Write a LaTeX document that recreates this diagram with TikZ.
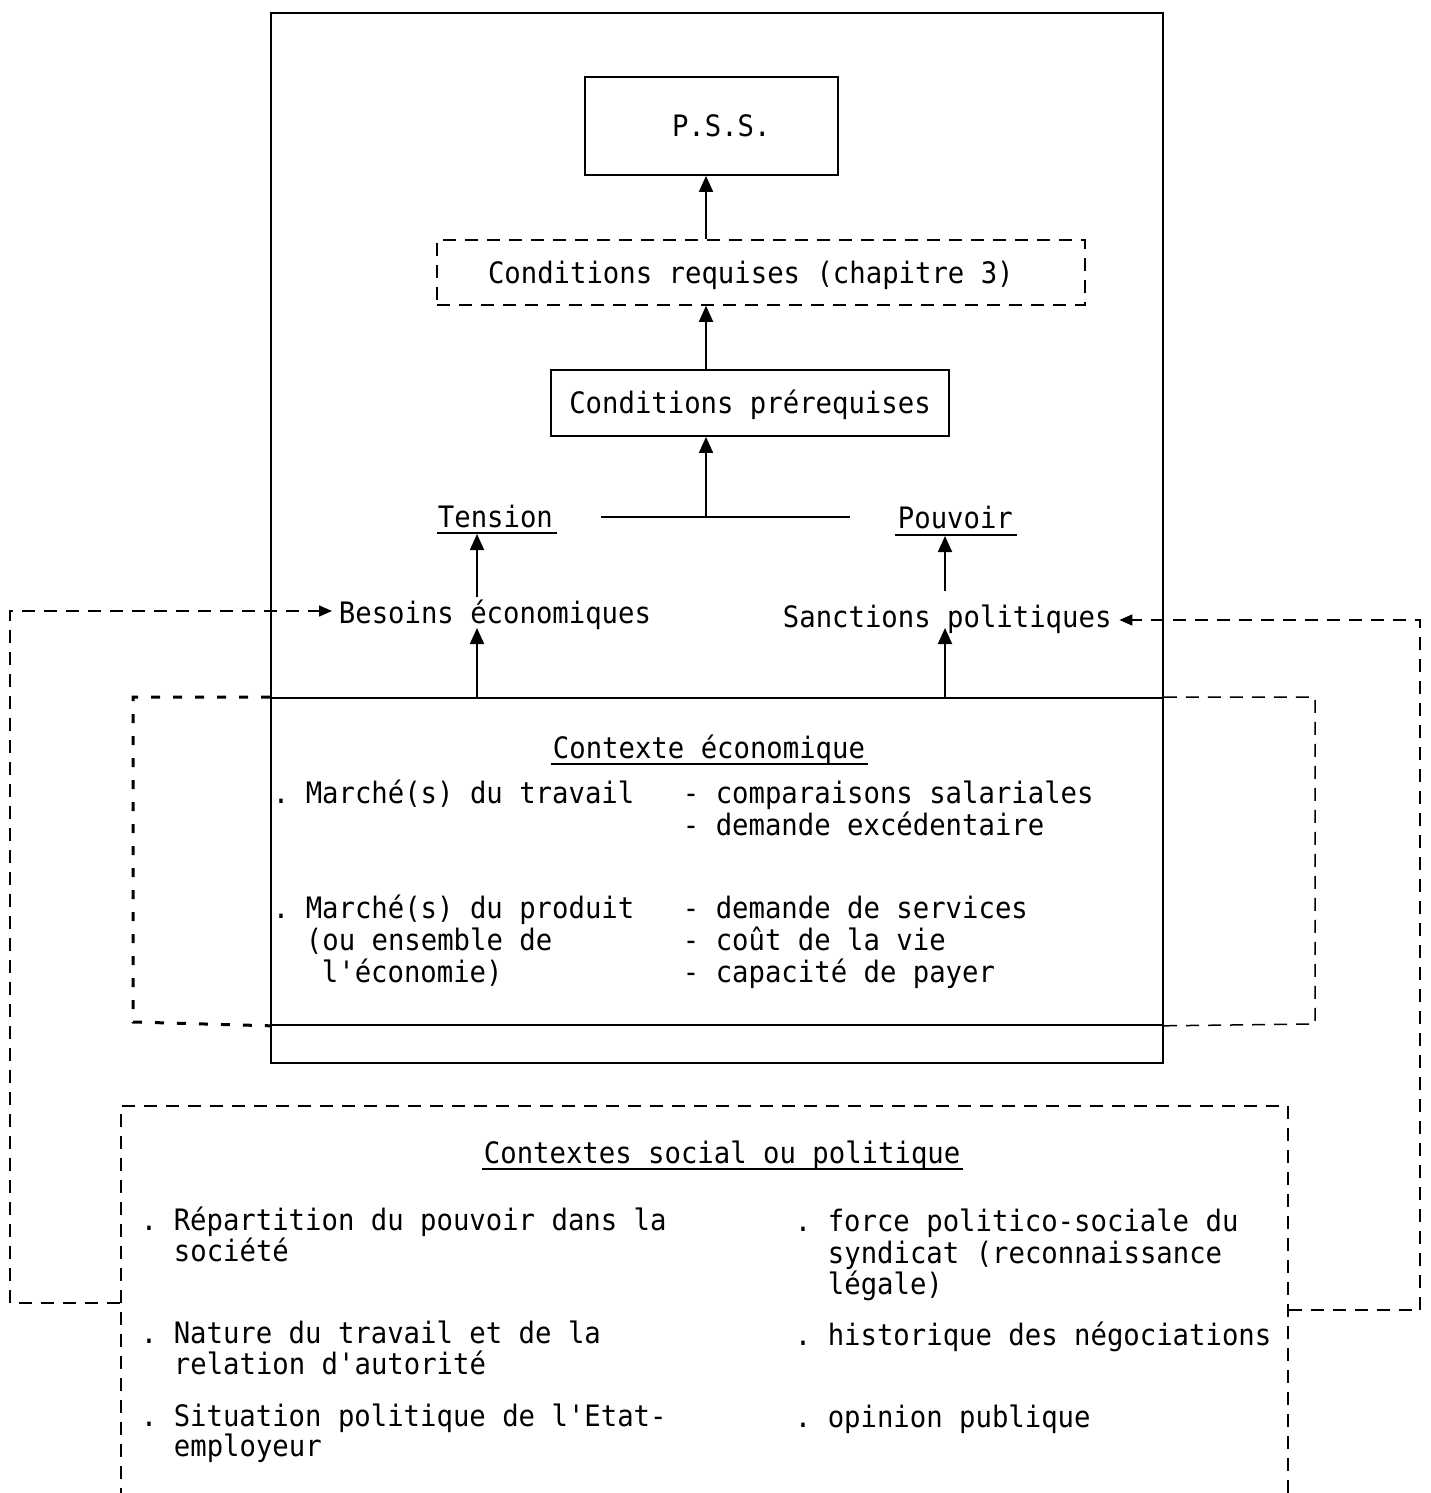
\documentclass[tikz,border=0pt]{standalone}
\usepackage{fontspec}
\newfontfamily\tw[FakeStretch=0.925]{DejaVu Sans Mono}
\usetikzlibrary{arrows.meta}

\begin{document}
\frenchspacing
\begin{tikzpicture}[x=1pt,y=-1pt,
  line width=1.8pt,
  tfont/.style={font=\tw\fontsize{29.5}{31.5}\selectfont\frenchspacing},
  txt/.style={tfont, inner sep=0pt, anchor=base west},
  frame/.style={draw, anchor=north west, inner sep=0pt},
  boxed/.style={draw, tfont, inner sep=0pt, text height=21pt, text depth=0pt},
  arr/.style={-{Triangle[length=16pt,width=14pt]}},
  dline/.style={line width=1.5pt, dash pattern=on 13pt off 9pt},
  ecodash/.style={line width=3pt, dash pattern=on 9pt off 13pt},
  darr/.style={dline, -{Triangle[length=13pt,width=11pt]}},
  uline/.style={line width=1.8pt}
]
\useasboundingbox (0,0) rectangle (1431,1493);
\fill[white] (0,0) rectangle (1431,1493);

% ---- outer frame and economic context frame
\node[frame, minimum width=892pt, minimum height=1050pt] (outer) at (270,12) {};
\node[frame, minimum width=892pt, minimum height=327pt] (eco) at (270,697) {};

% ---- social / political context (open at the bottom)
\node[frame, dline, minimum width=1167pt, minimum height=430pt] (soc) at (120,1105) {};

% ---- upper chain
\node[boxed, inner xsep=87pt, minimum height=98pt] (pss) at (711.5,126) {\makebox[79pt][l]{P.S.S.}};
\node[boxed, dline, inner xsep=51pt, minimum height=65pt] (req) at (761,272.5) {\makebox[546pt][l]{Conditions requises (chapitre 3)}};
\node[boxed, minimum width=398pt, minimum height=66pt] (prereq) at (750,403) {Conditions prérequises};

\node[txt] (tension) at (437,527) {Tension};
\node[txt] (pouvoir) at (897,528) {Pouvoir};
\draw[uline] ([shift={(0,6)}]tension.base west) -- ([shift={(3,6)}]tension.base east);
\draw[uline] ([shift={(-2,7)}]pouvoir.base west) -- ([shift={(3,7)}]pouvoir.base east);

\node[txt] (besoins) at (338,623) {Besoins économiques};
\node[txt] (sanctions) at (782,627) {Sanctions politiques};

% ---- vertical axes of the arrows
\coordinate (jx) at (706,0);
\coordinate (ax) at (477,0);
\coordinate (bx) at (945,0);
\coordinate (jl) at (601,517);
\coordinate (jr) at (850,517);

\draw (jl) -- (jr);
\draw[arr] (jx |- jl) -- (prereq.south -| jx);
\draw[arr] (prereq.north -| jx) -- (req.south -| jx);
\draw[arr] (req.north -| jx) -- (pss.south -| jx);

\draw[arr] (ax |- 0,597) -- (ax |- 0,534);
\draw[arr] (bx |- 0,591) -- (bx |- 0,536);
\draw[arr] (eco.north -| ax) -- (ax |- 0,628);
\draw[arr] (eco.north -| bx) -- (bx |- 0,628);

% ---- economic context contents
\node[txt] (ecotitle) at (552,758) {Contexte économique};
\draw[uline] ([shift={(-1,6)}]ecotitle.base west) -- ([shift={(2,6)}]ecotitle.base east);
\node[txt] (m1) at (272,803) {. Marché(s) du travail};
\node[txt] (m1a) at (682,803) {- comparaisons salariales};
\node[txt] (m1b) at (682,835) {- demande excédentaire};
\node[txt] (m2) at (272,918) {. Marché(s) du produit};
\node[txt] (m2l2) at (305,950) {(ou ensemble de};
\node[txt] (m2l3) at (321,982) {l'économie)};
\node[txt] (m2a) at (682,918) {- demande de services};
\node[txt] (m2b) at (682,950) {- coût de la vie};
\node[txt] (m2c) at (682,982) {- capacité de payer};

% ---- dashed extensions of the economic frame
\draw[ecodash] (eco.north west) -- (133,697) -- (133,1022) -- (eco.south west);
\draw[dline] (eco.north east) -- (1315,697) -- (1315,1024) -- (eco.south east);

% ---- social / political contents
\node[txt] (soctitle) at (483,1163) {Contextes social ou politique};
\draw[uline] ([shift={(-1,6)}]soctitle.base west) -- ([shift={(2,6)}]soctitle.base east);
\node[txt] (s1) at (140,1230) {. Répartition du pouvoir dans la};
\node[txt] (s1b) at (173,1261) {société};
\node[txt] (s2) at (140,1343) {. Nature du travail et de la};
\node[txt] (s2b) at (173,1374) {relation d'autorité};
\node[txt] (s3) at (140,1426) {. Situation politique de l'Etat-};
\node[txt] (s3b) at (173,1456) {employeur};
\node[txt] (r1) at (794,1231) {. force politico-sociale du};
\node[txt] (r1b) at (827,1263) {syndicat (reconnaissance};
\node[txt] (r1c) at (827,1294) {légale)};
\node[txt] (r2) at (794,1345) {. historique des négociations};
\node[txt] (r3) at (794,1427) {. opinion publique};

% ---- feedback loops from the social context
\coordinate (lfoot) at (10,1303);
\coordinate (rfoot) at (1420,1310);
\draw[darr] (soc.north west |- lfoot) -- (lfoot) -- (lfoot |- 0,611) -- ([shift={(-6,-12)}]besoins.base west);
\draw[darr] (soc.north east |- rfoot) -- (rfoot) -- (rfoot |- 0,620) -- ([shift={(7,-7)}]sanctions.base east);
\end{tikzpicture}
\end{document}
